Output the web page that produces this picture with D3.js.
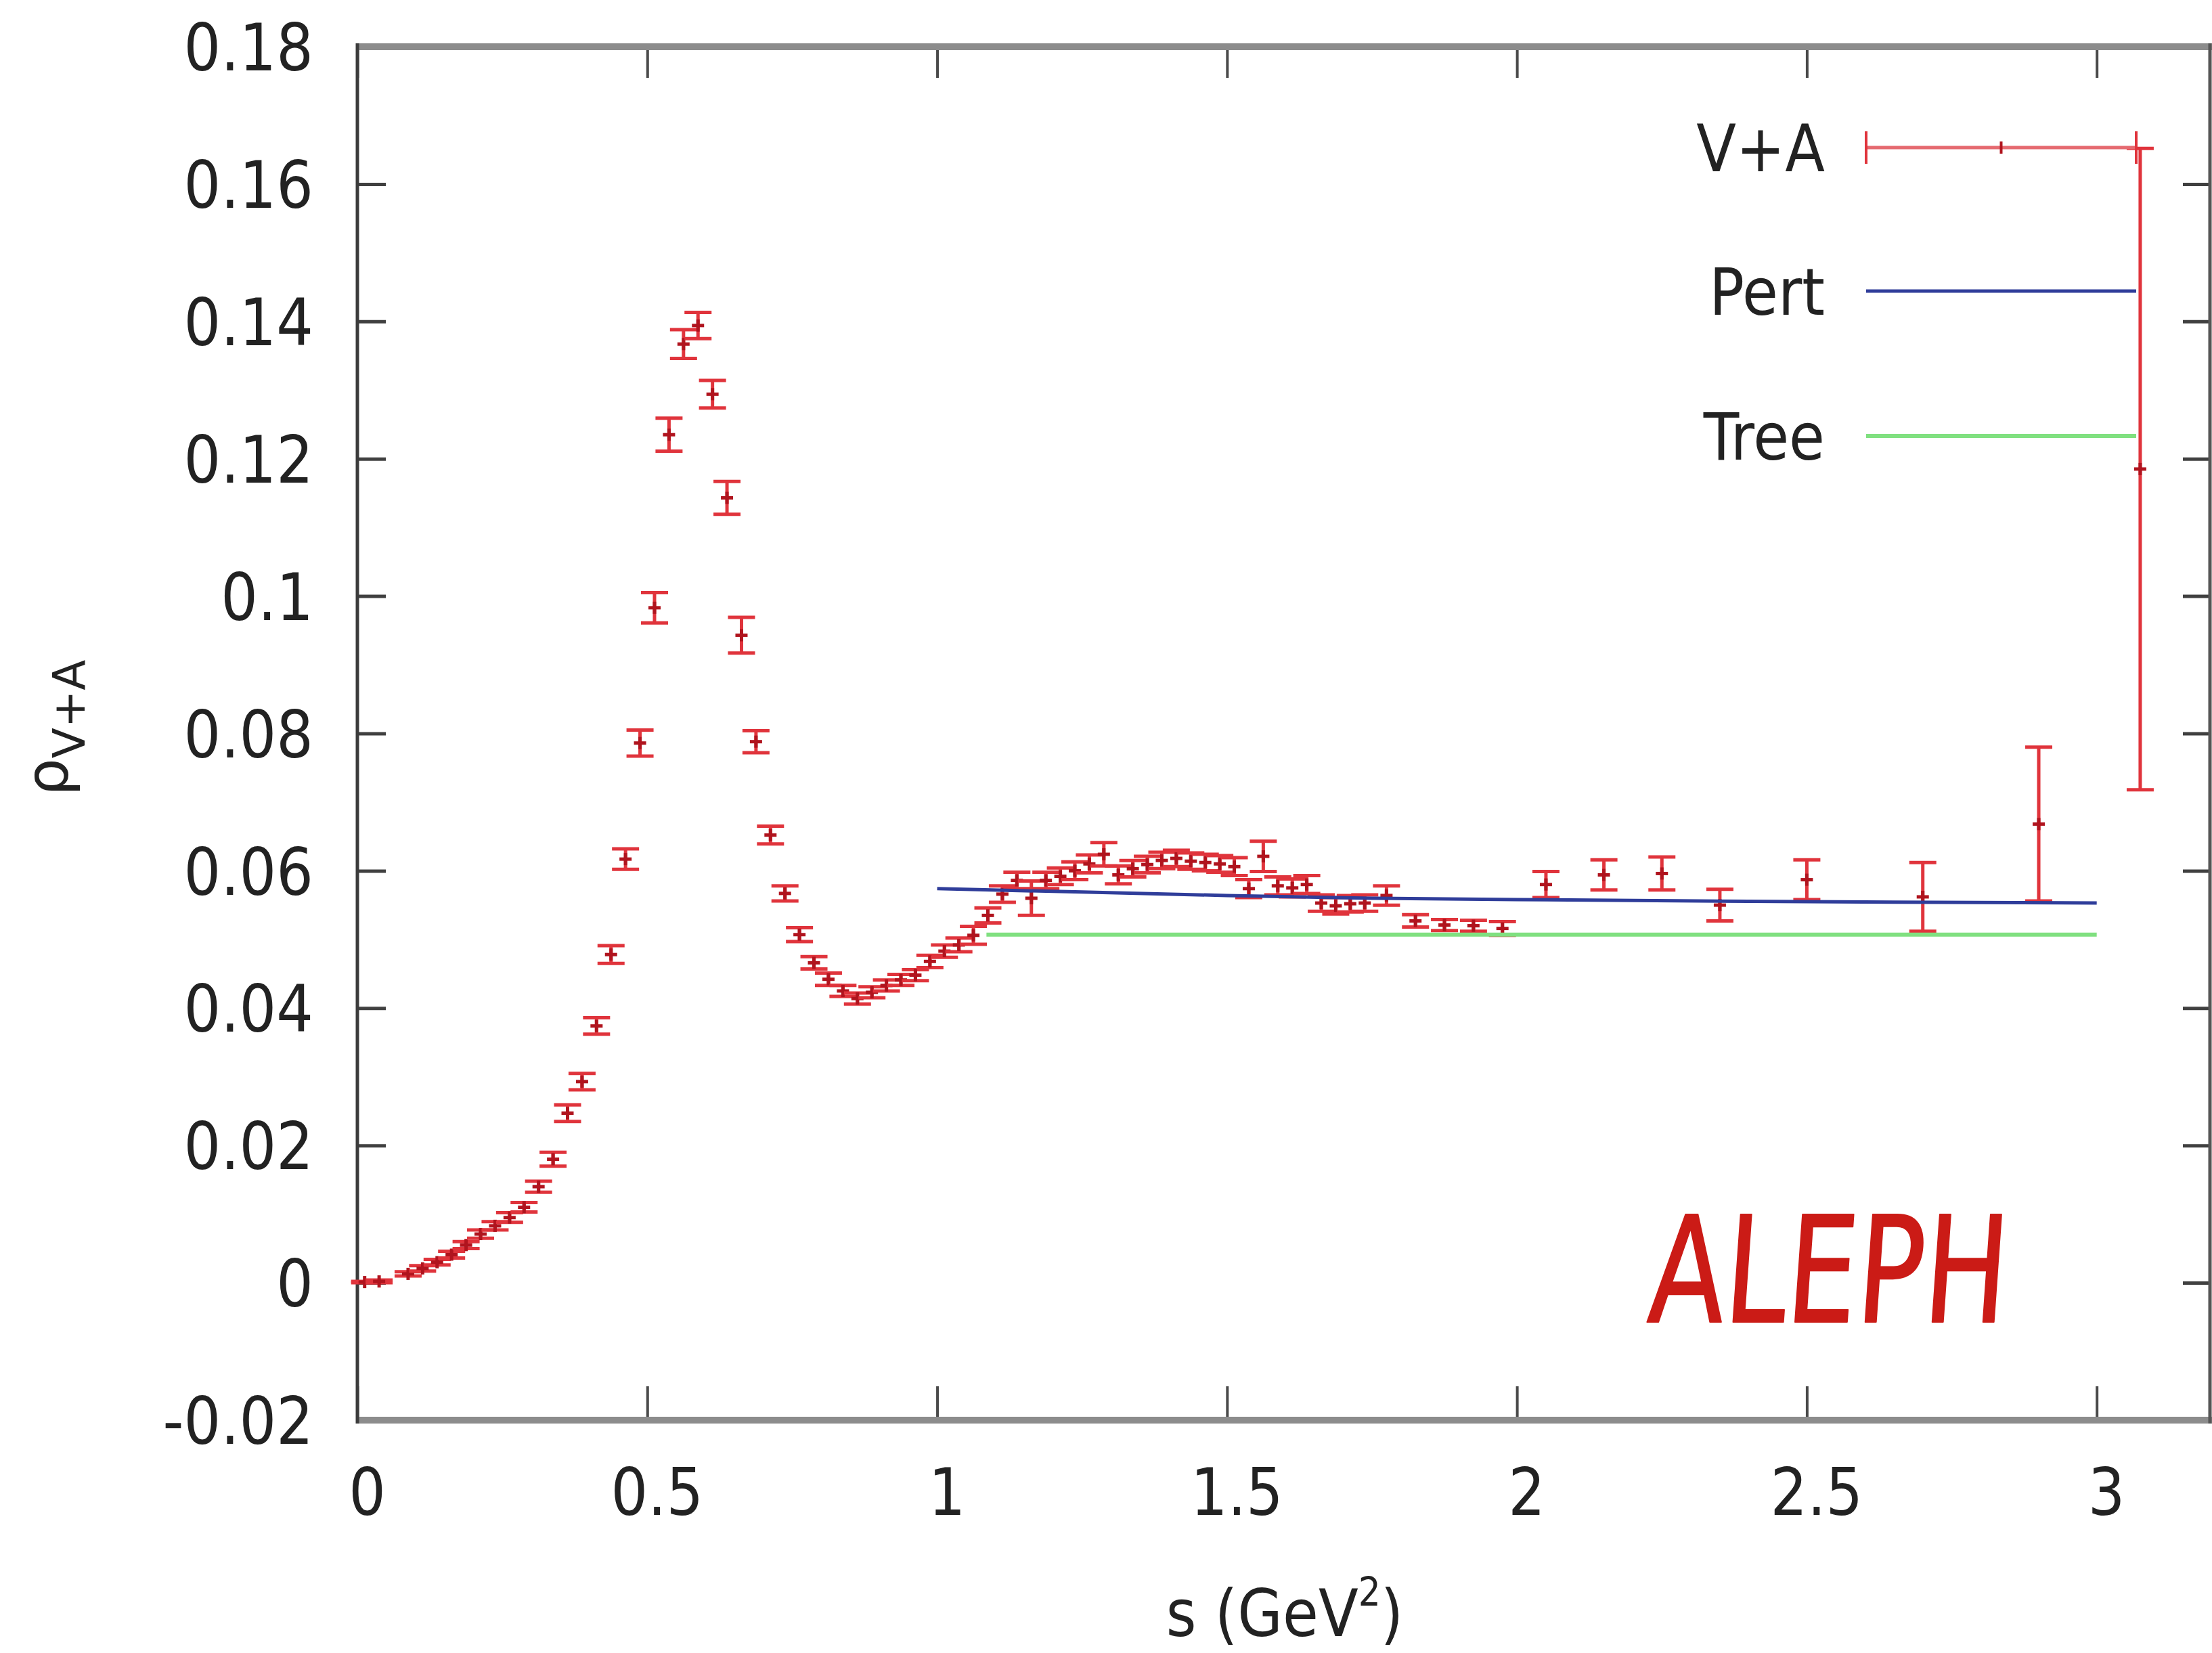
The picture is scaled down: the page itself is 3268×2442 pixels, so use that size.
<!DOCTYPE html>
<html>
<head>
<meta charset="utf-8">
<script src="https://cdn.jsdelivr.net/npm/d3@7"></script>
<style>
  html, body { margin: 0; padding: 0; background: #fff; overflow: hidden; }
  svg { display: block; background: #fff; }
</style>
</head>
<body>
<svg id="chart" width="3268" height="2442"></svg>
<script>
// ALEPH tau-decay spectral function rho_{V+A}(s) with statistical errors
const sBins = [0.0125, 0.0375, 0.0875, 0.1125, 0.1375, 0.1625, 0.1875, 0.2125, 0.2375, 0.2625,
  0.2875, 0.3125, 0.3375, 0.3625, 0.3875, 0.4125, 0.4375, 0.4625, 0.4875, 0.5125,
  0.5375, 0.5625, 0.5875, 0.6125, 0.6375, 0.6625, 0.6875, 0.7125, 0.7375, 0.7625,
  0.7875, 0.8125, 0.8375, 0.8625, 0.8875, 0.9125, 0.9375, 0.9625, 0.9875, 1.0125,
  1.0375, 1.0625, 1.0875, 1.1125, 1.1375, 1.1625, 1.1875, 1.2125, 1.2375, 1.2625,
  1.2875, 1.3125, 1.3375, 1.3625, 1.3875, 1.4125, 1.4375, 1.4625, 1.4875, 1.5125,
  1.5375, 1.5625, 1.5875, 1.6125, 1.6375, 1.6625, 1.6875, 1.7125, 1.7375, 1.775,
  1.825, 1.875, 1.925, 1.975, 2.05, 2.15, 2.25, 2.35, 2.5, 2.7,
  2.9, 3.075];
const rhoVA = [0.0001, 0.0002, 0.0013, 0.0021, 0.0030, 0.0041, 0.0055, 0.0071, 0.0083, 0.0095,
  0.0110, 0.0140, 0.0180, 0.0247, 0.0293, 0.0374, 0.0478, 0.0617, 0.0786, 0.0983,
  0.1235, 0.1367, 0.1394, 0.1294, 0.1143, 0.0943, 0.0788, 0.0652, 0.0567, 0.0507,
  0.0466, 0.0442, 0.0425, 0.0414, 0.0423, 0.0433, 0.0441, 0.0448, 0.0468, 0.0483,
  0.0492, 0.0506, 0.0535, 0.0566, 0.0586, 0.0560, 0.0586, 0.0592, 0.0600, 0.0610,
  0.0624, 0.0594, 0.0603, 0.0609, 0.0615, 0.0618, 0.0614, 0.0612, 0.0610, 0.0606,
  0.0574, 0.0621, 0.0578, 0.0575, 0.0580, 0.0553, 0.0549, 0.0552, 0.0553, 0.0564,
  0.0527, 0.0521, 0.0520, 0.0516, 0.0580, 0.0594, 0.0596, 0.0550, 0.0587, 0.0562,
  0.0668, 0.1185];
const rhoErr = [0.0001, 0.0002, 0.0003, 0.0004, 0.0004, 0.0005, 0.0005, 0.0006, 0.0006, 0.0007,
  0.0007, 0.0008, 0.0010, 0.0012, 0.0012, 0.0012, 0.0013, 0.0015, 0.0019, 0.0022,
  0.0024, 0.0021, 0.0019, 0.0020, 0.0024, 0.0026, 0.0016, 0.0013, 0.0011, 0.0010,
  0.0009, 0.0009, 0.0008, 0.0008, 0.0008, 0.0008, 0.0008, 0.0008, 0.0009, 0.0009,
  0.0010, 0.0013, 0.0011, 0.0012, 0.0012, 0.0025, 0.0012, 0.0012, 0.0013, 0.0013,
  0.0017, 0.0013, 0.0012, 0.0012, 0.0012, 0.0012, 0.0012, 0.0012, 0.0012, 0.0013,
  0.0013, 0.0022, 0.0013, 0.0013, 0.0013, 0.0012, 0.0012, 0.0012, 0.0012, 0.0014,
  0.0009, 0.0008, 0.0008, 0.0010, 0.0019, 0.0022, 0.0024, 0.0023, 0.0029, 0.0050,
  0.0112, 0.0467];

// Perturbative QCD prediction
const pertS   = [1.0, 1.25, 1.5, 1.75, 2.0, 2.5, 3.0];
const pertRho = [0.0574, 0.0569, 0.0564, 0.0560, 0.0558, 0.0555, 0.0553];

// Tree-level (parton model) value 1/(2 pi^2)
const treeS   = [1.085, 3.0];
const treeRho = [0.0507, 0.0507];

const xTicks = [0, 0.5, 1, 1.5, 2, 2.5, 3];
const xTickLabels = ["0", "0.5", "1", "1.5", "2", "2.5", "3"];
const yTicks = [-0.02, 0, 0.02, 0.04, 0.06, 0.08, 0.1, 0.12, 0.14, 0.16, 0.18];
const yTickLabels = ["-0.02", "0", "0.02", "0.04", "0.06", "0.08", "0.1", "0.12", "0.14", "0.16", "0.18"];
const legendLabels = ["V+A", "Pert", "Tree"];

const FONT = "'DejaVu Sans', Verdana, sans-serif";
const TXT = "#222";
const STRETCH = "scale(1,1.12)";
const RED = "#e0343c";
const RED_MARK = "#b0141e";
const BLUE = "#2f3d9a";
const GREEN = "#80e080";

const svg = d3.select("#chart");

const x = d3.scaleLinear().domain([0, 3.2]).range([528, 3269]);
const y = d3.scaleLinear().domain([-0.02, 0.18]).range([2098, 69]);

// ---- axes ----
const gLeft = svg.append("g")
  .attr("transform", `translate(${x(0)},0)`)
  .call(d3.axisLeft(y).tickValues(yTicks).tickSize(-42).tickSizeOuter(0).tickPadding(65)
    .tickFormat(d => yTickLabels[yTicks.indexOf(d)]));
gLeft.select(".domain").remove();
gLeft.selectAll(".tick line").attr("stroke", "#404040").attr("stroke-width", 5);
gLeft.selectAll(".tick text")
  .attr("font-family", FONT).attr("font-size", 86).attr("fill", TXT)
  .attr("dy", "0.36em").attr("transform", STRETCH);

const gRight = svg.append("g")
  .attr("transform", `translate(3265,0)`)
  .call(d3.axisRight(y).tickValues(yTicks).tickSize(-40).tickSizeOuter(0).tickFormat(() => ""));
gRight.select(".domain").remove();
gRight.selectAll(".tick line").attr("stroke", "#404040").attr("stroke-width", 5);

const gBottom = svg.append("g")
  .attr("transform", `translate(0,${y(-0.02)})`)
  .call(d3.axisBottom(x).tickValues(xTicks).tickSize(-50).tickSizeOuter(0)
    .tickFormat(d => xTickLabels[xTicks.indexOf(d)]));
gBottom.select(".domain").remove();
gBottom.selectAll(".tick line").attr("stroke", "#4a4a4a").attr("stroke-width", 4);
gBottom.selectAll(".tick text")
  .attr("font-family", FONT).attr("font-size", 86).attr("fill", TXT)
  .attr("y", 0).attr("dy", null)
  .attr("transform", `translate(14,140) ${STRETCH}`);

const gTop = svg.append("g")
  .attr("transform", `translate(0,${y(0.18)})`)
  .call(d3.axisTop(x).tickValues(xTicks).tickSize(-46).tickSizeOuter(0).tickFormat(() => ""));
gTop.select(".domain").remove();
gTop.selectAll(".tick line").attr("stroke", "#4a4a4a").attr("stroke-width", 4);

// ---- frame ----
const frame = svg.append("g");
frame.append("line").attr("x1", x(0)).attr("x2", 3268).attr("y1", y(0.18)).attr("y2", y(0.18))
  .attr("stroke", "#8c8c8c").attr("stroke-width", 10);
frame.append("line").attr("x1", x(0)).attr("x2", 3268).attr("y1", y(-0.02)).attr("y2", y(-0.02))
  .attr("stroke", "#8c8c8c").attr("stroke-width", 10);
frame.append("line").attr("x1", x(0)).attr("x2", x(0)).attr("y1", y(0.18) - 5).attr("y2", y(-0.02) + 5)
  .attr("stroke", "#3c3c3c").attr("stroke-width", 5);
frame.append("line").attr("x1", 3265).attr("x2", 3265).attr("y1", y(0.18) - 5).attr("y2", y(-0.02) + 5)
  .attr("stroke", "#555").attr("stroke-width", 5);

// ---- data with error bars ----
const points = sBins.map((s, i) => ({ s, v: rhoVA[i], e: rhoErr[i] }));
const CAP = 20, MARK = 9, SW = 5;
const bars = svg.append("g").attr("fill", "none").attr("stroke-linecap", "butt");
const pg = bars.selectAll("g.pt").data(points).join("g").attr("class", "pt");
pg.append("line")
  .attr("x1", d => x(d.s)).attr("x2", d => x(d.s))
  .attr("y1", d => y(d.v - d.e)).attr("y2", d => y(d.v + d.e))
  .attr("stroke", RED).attr("stroke-width", SW);
pg.append("line")
  .attr("x1", d => x(d.s) - CAP).attr("x2", d => x(d.s) + CAP)
  .attr("y1", d => y(d.v + d.e)).attr("y2", d => y(d.v + d.e))
  .attr("stroke", RED).attr("stroke-width", SW);
pg.append("line")
  .attr("x1", d => x(d.s) - CAP).attr("x2", d => x(d.s) + CAP)
  .attr("y1", d => y(d.v - d.e)).attr("y2", d => y(d.v - d.e))
  .attr("stroke", RED).attr("stroke-width", SW);
pg.append("line")
  .attr("x1", d => x(d.s) - MARK).attr("x2", d => x(d.s) + MARK)
  .attr("y1", d => y(d.v)).attr("y2", d => y(d.v))
  .attr("stroke", RED_MARK).attr("stroke-width", SW);
pg.append("line")
  .attr("x1", d => x(d.s)).attr("x2", d => x(d.s))
  .attr("y1", d => y(d.v) - MARK).attr("y2", d => y(d.v) + MARK)
  .attr("stroke", RED_MARK).attr("stroke-width", SW);

// ---- theory curves ----
const line = d3.line().x(d => x(d[0])).y(d => y(d[1]));
svg.append("path")
  .datum(pertS.map((s, i) => [s, pertRho[i]]))
  .attr("d", line).attr("fill", "none").attr("stroke", BLUE).attr("stroke-width", 5);
svg.append("path")
  .datum(treeS.map((s, i) => [s, treeRho[i]]))
  .attr("d", line).attr("fill", "none").attr("stroke", GREEN).attr("stroke-width", 6);

// ---- key ----
const keyTextX = 2696, keyX1 = 2757, keyX2 = 3156;
const keyY = [218, 430, 644];
const key = svg.append("g");
key.selectAll("text").data(legendLabels).join("text")
  .attr("transform", (d, i) => `translate(${keyTextX},${keyY[i]}) ${STRETCH}`)
  .attr("dy", "0.36em")
  .attr("text-anchor", "end")
  .attr("font-family", FONT).attr("font-size", 86).attr("fill", TXT)
  .text(d => d);
// V+A sample: errorbar-style key
key.append("line").attr("x1", keyX1).attr("x2", keyX2).attr("y1", keyY[0]).attr("y2", keyY[0])
  .attr("stroke", "#e56a70").attr("stroke-width", 5);
[keyX1, keyX2].forEach(kx => key.append("line")
  .attr("x1", kx).attr("x2", kx).attr("y1", keyY[0] - 24).attr("y2", keyY[0] + 24)
  .attr("stroke", RED).attr("stroke-width", 4));
key.append("line").attr("x1", (keyX1 + keyX2) / 2).attr("x2", (keyX1 + keyX2) / 2)
  .attr("y1", keyY[0] - MARK).attr("y2", keyY[0] + MARK)
  .attr("stroke", RED_MARK).attr("stroke-width", 4);
key.append("line").attr("x1", keyX1).attr("x2", keyX2).attr("y1", keyY[1]).attr("y2", keyY[1])
  .attr("stroke", BLUE).attr("stroke-width", 5);
key.append("line").attr("x1", keyX1).attr("x2", keyX2).attr("y1", keyY[2]).attr("y2", keyY[2])
  .attr("stroke", GREEN).attr("stroke-width", 6);

// ---- axis titles ----
const xTitle = svg.append("text")
  .attr("transform", `translate(1898,2417) ${STRETCH}`)
  .attr("text-anchor", "middle")
  .attr("font-family", FONT).attr("font-size", 86).attr("fill", TXT);
xTitle.append("tspan").text("s (GeV");
xTitle.append("tspan").attr("font-size", 52).attr("dy", -40).text("2");
xTitle.append("tspan").attr("dy", 40).text(")");

const yTitle = svg.append("text")
  .attr("transform", "translate(100,1176) rotate(-90)")
  .attr("font-family", FONT).attr("fill", TXT);
yTitle.append("tspan").attr("font-size", 88).text("\u03C1");
yTitle.append("tspan").attr("font-size", 66).attr("dy", 25).text("V+A");

// ---- experiment tag ----
svg.append("text")
  .attr("transform", "translate(2432,1953) skewX(-4)")
  .attr("font-family", "'Liberation Sans Narrow', 'DejaVu Sans Condensed', sans-serif")
  .attr("font-size", 218)
  .attr("textLength", 530).attr("lengthAdjust", "spacingAndGlyphs")
  .attr("fill", "#cb1b16").attr("stroke", "#cb1b16").attr("stroke-width", 2)
  .attr("stroke-linejoin", "round")
  .text("ALEPH");
</script>
</body>
</html>
